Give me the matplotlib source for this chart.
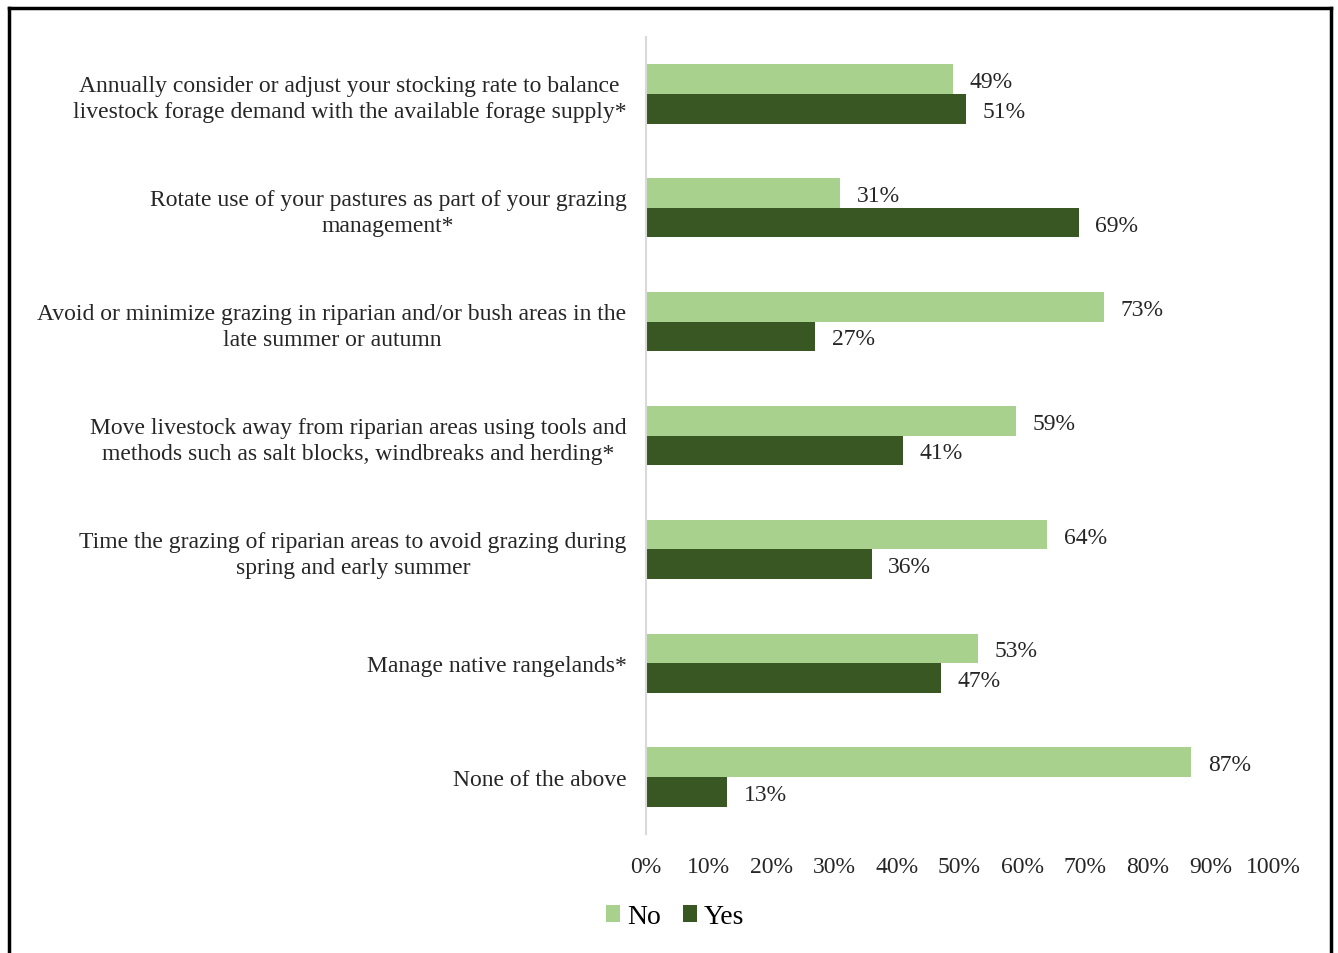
import matplotlib
matplotlib.use("Agg")
import matplotlib.pyplot as plt
import numpy as np
from matplotlib.patches import Patch
from matplotlib.lines import Line2D

categories = [
    "Annually consider or adjust your stocking rate to balance\nlivestock forage demand with the available forage supply*",
    "Rotate use of your pastures as part of your grazing\nmanagement*",
    "Avoid or minimize grazing in riparian and/or bush areas in the\nlate summer or autumn",
    "Move livestock away from riparian areas using tools and\nmethods such as salt blocks, windbreaks and herding*",
    "Time the grazing of riparian areas to avoid grazing during\nspring and early summer",
    "Manage native rangelands*",
    "None of the above",
]
no_values = [49, 31, 73, 59, 64, 53, 87]
yes_values = [51, 69, 27, 41, 36, 47, 13]
tick_values = [0, 10, 20, 30, 40, 50, 60, 70, 80, 90, 100]

NO_COLOR = "#A9D18E"
YES_COLOR = "#385723"
TEXT_COLOR = "#262626"
FONT = "Liberation Serif"

plt.rcParams["font.family"] = FONT

fig = plt.figure(figsize=(13.38, 9.54), dpi=100)
ax = fig.add_axes([0.4828, 0.1247, 0.4686, 0.8355])

y = np.arange(len(categories))
h = 0.26
ax.barh(y - h / 2, no_values, height=h, color=NO_COLOR, label="No")
ax.barh(y + h / 2, yes_values, height=h, color=YES_COLOR, label="Yes")

for yi, v in zip(y, no_values):
    ax.annotate(f"{v}%", (v, yi - h / 2), xytext=(12, -1.8), textcoords="offset points",
                va="center", ha="left", fontsize=17, color=TEXT_COLOR)
for yi, v in zip(y, yes_values):
    ax.annotate(f"{v}%", (v, yi + h / 2), xytext=(12, -1.8), textcoords="offset points",
                va="center", ha="left", fontsize=17, color=TEXT_COLOR)

ax.set_xlim(0, 100)
ax.set_ylim(len(categories) - 0.5, -0.5)
ax.set_xticks(tick_values)
ax.set_xticklabels([f"{t}%" for t in tick_values], fontsize=17, color=TEXT_COLOR)
ax.set_yticks(y)
ax.set_yticklabels(categories, fontsize=17, color=TEXT_COLOR,
                   multialignment="center", linespacing=1.3)
for lbl in ax.get_yticklabels():
    lbl.set_y(lbl.get_position()[1])
ax.tick_params(axis="both", length=0)
ax.tick_params(axis="y", pad=14)
ax.tick_params(axis="x", pad=16)
for side in ("top", "right", "bottom"):
    ax.spines[side].set_visible(False)
ax.spines["left"].set_color("#D9D9D9")
ax.spines["left"].set_linewidth(1.5)

handles = [Patch(facecolor=NO_COLOR, label="No"), Patch(facecolor=YES_COLOR, label="Yes")]
fig.legend(handles=handles, loc="center", bbox_to_anchor=(675 / 1338, 1 - 918 / 954),
           ncol=2, frameon=False, fontsize=20, handlelength=0.5, handleheight=0.55,
           handletextpad=0.25, columnspacing=0.8)

# outer frame (open at the bottom)
frame_kw = dict(color="black", linewidth=2.5, transform=fig.transFigure)
fig.add_artist(Line2D([8.5 / 1338, 8.5 / 1338], [0, 1 - 8.5 / 954], **frame_kw))
fig.add_artist(Line2D([8.5 / 1338, 1331 / 1338], [1 - 8.5 / 954, 1 - 8.5 / 954], **frame_kw))
fig.add_artist(Line2D([1331 / 1338, 1331 / 1338], [0, 1 - 8.5 / 954], **frame_kw))

fig.savefig("out.png", dpi=100)
